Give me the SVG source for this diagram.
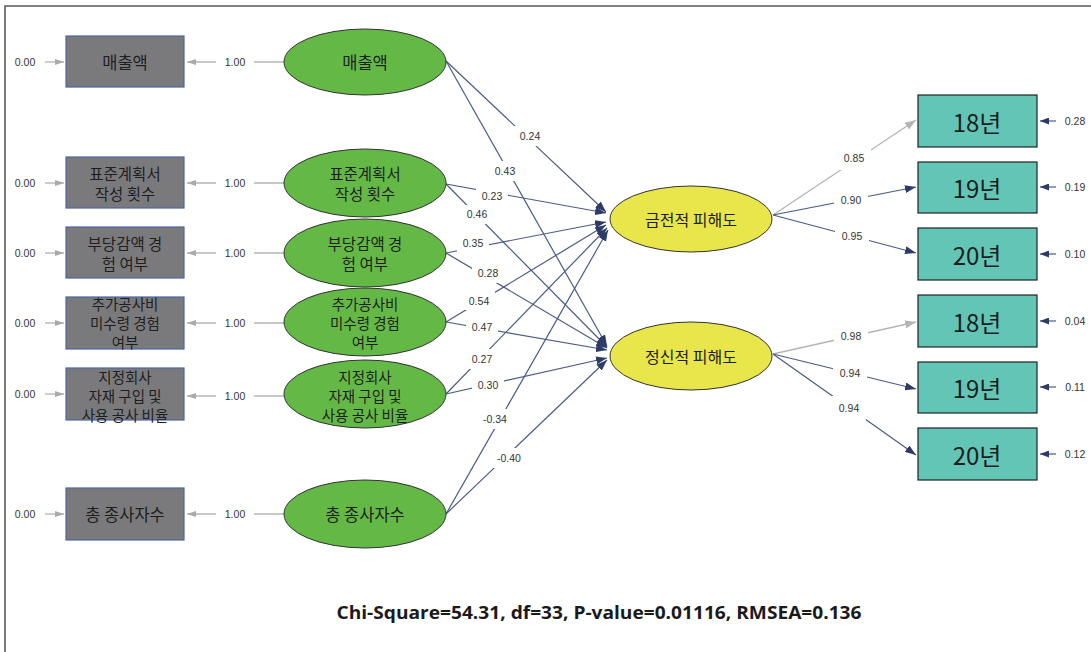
<svg xmlns="http://www.w3.org/2000/svg" width="1091" height="652" viewBox="0 0 1091 652">
<style>
.kr{font-family:"Noto Sans CJK KR","Noto Sans",sans-serif;fill:#1e1e1e;text-anchor:middle;dominant-baseline:central}
.box{fill:#7a7a7d;stroke:#4a67a0;stroke-width:1.2}
.obs{fill:#63c5b6;stroke:#222;stroke-width:1.2}
.lv{fill:#64b946;stroke:#333;stroke-width:1}
.ylv{fill:#e8e64a;stroke:#333;stroke-width:1}
.num{font-family:"Liberation Sans",Arial,sans-serif;font-size:10.5px;fill:#333;text-anchor:middle;dominant-baseline:central}
.nv{stroke:#4a5b85;stroke-width:1.2;fill:none}
.gr{stroke:#b4b4b4;stroke-width:1.3;fill:none}
.bg{fill:#fff}
.yr{font-size:24px}
.f1{font-size:16.5px}
.f2{font-size:15.5px}
.f3{font-size:14.5px}
.fy{font-size:16px}
</style>
<defs>
<marker id="an" viewBox="0 0 11 8" refX="11" refY="4" markerWidth="11" markerHeight="8" markerUnits="userSpaceOnUse" orient="auto"><path d="M0,0 L11,4 L0,8 z" fill="#2c3b68"/></marker>
<marker id="ag" viewBox="0 0 11 8" refX="11" refY="4" markerWidth="11" markerHeight="8" markerUnits="userSpaceOnUse" orient="auto"><path d="M0,0 L11,4 L0,8 z" fill="#b4b4b4"/></marker>
<marker id="as" viewBox="0 0 9 6" refX="9" refY="3" markerWidth="9" markerHeight="6" markerUnits="userSpaceOnUse" orient="auto"><path d="M0,0 L9,3 L0,6 z" fill="#aaaaaa"/></marker>
<marker id="asn" viewBox="0 0 9 7" refX="9" refY="3.5" markerWidth="9" markerHeight="7" markerUnits="userSpaceOnUse" orient="auto"><path d="M0,0 L9,3.5 L0,7 z" fill="#2c3b68"/></marker>
</defs>
<rect width="1091" height="652" fill="#fff"/>
<path d="M5,652 L5,6 L1091,6" fill="none" stroke="#5a5a5a" stroke-width="1.6"/>

<g id="connectors">
  <g class="gr" marker-end="url(#as)">
    <path d="M45,62 L64,62"/><path d="M45,183 L64,183"/><path d="M45,253 L64,253"/>
    <path d="M45,323 L64,323"/><path d="M45,394 L64,394"/><path d="M45,514 L64,514"/>
  </g>
  <g class="gr" marker-end="url(#as)">
    <path d="M284,62 L187,62"/><path d="M284,183 L187,183"/><path d="M284,253 L187,253"/>
    <path d="M284,323 L187,323"/><path d="M284,396 L187,396"/><path d="M284,514 L187,514"/>
  </g>
  <g class="nv" marker-end="url(#an)">
    <path d="M446,61 L606,212"/>
    <path d="M446,61 L607,346"/>
    <path d="M446,184 L606,213"/>
    <path d="M446,184 L607,347"/>
    <path d="M446,253 L606,222"/>
    <path d="M446,253 L607,348"/>
    <path d="M446,322 L606,225"/>
    <path d="M446,322 L607,350"/>
    <path d="M446,394 L607,228"/>
    <path d="M446,394 L607,358"/>
    <path d="M446,514 L608,230"/>
    <path d="M446,514 L607,360"/>
  </g>
  <path class="gr" d="M773,215 L916,120" marker-end="url(#ag)"/>
  <path class="nv" d="M773,215 L916,187" marker-end="url(#an)"/>
  <path class="nv" d="M773,215 L916,253" marker-end="url(#an)"/>
  <path class="gr" d="M773,354 L916,322" marker-end="url(#ag)"/>
  <path class="nv" d="M773,354 L916,389" marker-end="url(#an)"/>
  <path class="nv" d="M773,354 L916,455" marker-end="url(#an)"/>
  <g class="nv" marker-end="url(#asn)">
    <path d="M1056,121 L1040,121"/><path d="M1056,187 L1040,187"/><path d="M1056,254 L1040,254"/>
    <path d="M1056,321 L1040,321"/><path d="M1056,387 L1040,387"/><path d="M1056,454 L1040,454"/>
  </g>
  <g class="bg">
    <rect x="216" y="55" width="38" height="14"/><rect x="216" y="176" width="38" height="14"/>
    <rect x="216" y="246" width="38" height="14"/><rect x="216" y="316" width="38" height="14"/>
    <rect x="216" y="389" width="38" height="14"/><rect x="216" y="507" width="38" height="14"/>
    <rect x="514" y="126" width="32" height="20"/>
    <rect x="489" y="161" width="32" height="20"/>
    <rect x="476" y="186" width="32" height="20"/>
    <rect x="461" y="205" width="32" height="19"/>
    <rect x="457" y="234" width="32" height="18"/>
    <rect x="472" y="263" width="32" height="20"/>
    <rect x="463" y="291" width="32" height="19"/>
    <rect x="466" y="318" width="32" height="18"/>
    <rect x="466" y="349" width="32" height="20"/>
    <rect x="472" y="375" width="32" height="20"/>
    <rect x="478" y="409" width="34" height="20"/>
    <rect x="492" y="448" width="34" height="20"/>
    <rect x="837" y="146" width="34" height="24"/>
    <rect x="834" y="190" width="34" height="20"/>
    <rect x="835" y="226" width="34" height="20"/>
    <rect x="834" y="326" width="34" height="20"/>
    <rect x="833" y="363" width="34" height="20"/>
    <rect x="832" y="396" width="34" height="24"/>
  </g>
  <g class="num">
    <text x="25" y="62">0.00</text><text x="25" y="183">0.00</text><text x="25" y="253">0.00</text>
    <text x="25" y="323">0.00</text><text x="25" y="394">0.00</text><text x="25" y="514">0.00</text>
    <text x="235" y="62">1.00</text><text x="235" y="183">1.00</text><text x="235" y="253">1.00</text>
    <text x="235" y="323">1.00</text><text x="235" y="396">1.00</text><text x="235" y="514">1.00</text>
    <text x="530" y="136">0.24</text>
    <text x="505" y="171">0.43</text>
    <text x="492" y="196">0.23</text>
    <text x="477" y="214">0.46</text>
    <text x="473" y="243">0.35</text>
    <text x="488" y="273">0.28</text>
    <text x="479" y="301">0.54</text>
    <text x="482" y="327">0.47</text>
    <text x="482" y="359">0.27</text>
    <text x="488" y="385">0.30</text>
    <text x="495" y="419">-0.34</text>
    <text x="509" y="458">-0.40</text>
    <text x="854" y="158">0.85</text>
    <text x="851" y="200">0.90</text>
    <text x="852" y="236">0.95</text>
    <text x="851" y="336">0.98</text>
    <text x="850" y="373">0.94</text>
    <text x="849" y="408">0.94</text>
    <text x="1075" y="121">0.28</text><text x="1075" y="187">0.19</text><text x="1075" y="254">0.10</text>
    <text x="1075" y="321">0.04</text><text x="1075" y="387">0.11</text><text x="1075" y="454">0.12</text>
  </g>
</g>

<g id="x1"><rect class="box" x="66" y="36" width="118" height="51"/><text class="kr f1" x="125" y="62">매출액</text></g>
<g id="x2"><rect class="box" x="66" y="157" width="118" height="51"/><text class="kr f2" x="125" y="173">표준계획서</text><text class="kr f2" x="125" y="193">작성 횟수</text></g>
<g id="x3"><rect class="box" x="66" y="227" width="118" height="51"/><text class="kr f2" x="125" y="243">부당감액 경</text><text class="kr f2" x="125" y="263">험 여부</text></g>
<g id="x4"><rect class="box" x="66" y="297" width="118" height="52"/><text class="kr f3" x="125" y="303">추가공사비</text><text class="kr f3" x="125" y="322">미수령 경험</text><text class="kr f3" x="125" y="341">여부</text></g>
<g id="x5"><rect class="box" x="66" y="368" width="118" height="52"/><text class="kr f3" x="125" y="376">지정회사</text><text class="kr f3" x="125" y="395">자재 구입 및</text><text class="kr f3" x="125" y="414">사용 공사 비율</text></g>
<g id="x6"><rect class="box" x="66" y="488" width="118" height="52"/><text class="kr f1" x="125" y="514">총 종사자수</text></g>

<g id="k1"><ellipse class="lv" cx="365" cy="62" rx="81" ry="33"/><text class="kr f1" x="365" y="62">매출액</text></g>
<g id="k2"><ellipse class="lv" cx="365" cy="183" rx="81" ry="34"/><text class="kr f2" x="365" y="173">표준계획서</text><text class="kr f2" x="365" y="193">작성 횟수</text></g>
<g id="k3"><ellipse class="lv" cx="365" cy="253" rx="81" ry="34"/><text class="kr f2" x="365" y="243">부당감액 경</text><text class="kr f2" x="365" y="263">험 여부</text></g>
<g id="k4"><ellipse class="lv" cx="365" cy="322" rx="81" ry="34"/><text class="kr f3" x="365" y="303">추가공사비</text><text class="kr f3" x="365" y="322">미수령 경험</text><text class="kr f3" x="365" y="341">여부</text></g>
<g id="k5"><ellipse class="lv" cx="365" cy="394" rx="81" ry="34"/><text class="kr f3" x="365" y="376">지정회사</text><text class="kr f3" x="365" y="395">자재 구입 및</text><text class="kr f3" x="365" y="414">사용 공사 비율</text></g>
<g id="k6"><ellipse class="lv" cx="365" cy="514" rx="81" ry="34"/><text class="kr f1" x="365" y="514">총 종사자수</text></g>

<g id="e1"><ellipse class="ylv" cx="691" cy="219" rx="81" ry="33"/><text class="kr fy" x="691" y="219">금전적 피해도</text></g>
<g id="e2"><ellipse class="ylv" cx="691" cy="356" rx="81" ry="34"/><text class="kr fy" x="691" y="356">정신적 피해도</text></g>

<g id="y1"><rect class="obs" x="918" y="95" width="119" height="52"/><text class="kr yr" x="977" y="121">18년</text></g>
<g id="y2"><rect class="obs" x="918" y="162" width="119" height="51"/><text class="kr yr" x="977" y="187">19년</text></g>
<g id="y3"><rect class="obs" x="918" y="228" width="119" height="52"/><text class="kr yr" x="977" y="254">20년</text></g>
<g id="y4"><rect class="obs" x="918" y="295" width="119" height="52"/><text class="kr yr" x="977" y="321">18년</text></g>
<g id="y5"><rect class="obs" x="918" y="362" width="119" height="51"/><text class="kr yr" x="977" y="387">19년</text></g>
<g id="y6"><rect class="obs" x="918" y="428" width="119" height="52"/><text class="kr yr" x="977" y="454">20년</text></g>

<text x="599" y="612" font-family="'Open Sans','Noto Sans',sans-serif" font-weight="bold" font-size="17.5" fill="#1a1a1a" text-anchor="middle" dominant-baseline="central" textLength="525" lengthAdjust="spacingAndGlyphs">Chi-Square=54.31, df=33, P-value=0.01116, RMSEA=0.136</text>
</svg>
